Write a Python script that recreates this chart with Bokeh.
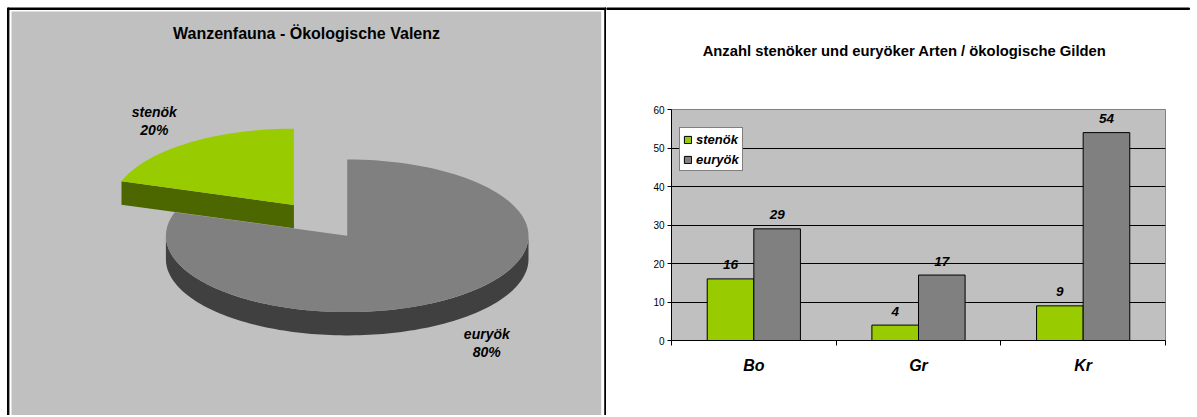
import numpy as np
from bokeh.plotting import figure
from bokeh.models import (Range1d, ColumnDataSource, LinearAxis, FixedTicker,
                          Legend, LegendItem, FactorRange)
from bokeh.layouts import row, column
from bokeh.transform import dodge
from bokeh.core.properties import value
from bokeh.embed import file_html
from bokeh.resources import INLINE

# ---------------- data ----------------
pie_title = "Wanzenfauna - Ökologische Valenz"
pie_labels = ["euryök", "stenök"]
pie_values = [80, 20]

bar_title = "Anzahl stenöker und euryöker Arten / ökologische Gilden"
guilds = ["Bo", "Gr", "Kr"]
series_names = ["stenök", "euryök"]
stenoek = [16, 4, 9]
euryoek = [29, 17, 54]
y_ticks = [0, 10, 20, 30, 40, 50, 60]

# ---------------- style ----------------
FONT = "Liberation Sans"
TOP_COL = {"stenök": "#99CC00", "euryök": "#808080"}
SIDE_COL = {"stenök": "#4C6600", "euryök": "#404040"}
BG = "#C0C0C0"
EXPLODE = {"stenök": 0.5, "euryök": 0.0}
H = 415


def no_align(f):
    if "frame_align" in f.properties():
        f.frame_align = False
    return f


def blank_fig(w, h, xr, yr, bg="white"):
    f = figure(width=w, height=h, x_range=xr, y_range=yr,
               output_backend="svg", toolbar_location=None, min_border=0,
               x_axis_location=None, y_axis_location=None,
               background_fill_color=bg, border_fill_color=bg,
               outline_line_color=None)
    f.xgrid.grid_line_color = None
    f.ygrid.grid_line_color = None
    return no_align(f)


# ---------------- left: 3D pie ----------------
pie = blank_fig(606, H, Range1d(0, 606), Range1d(H, 0))

# frame lines and chart area
pie.quad(left=[7, 7, 604.3], right=[606, 8.4, 605.7], top=[7.5, 7.5, 7.5], bottom=[9, H, H],
         color="black")
pie.quad(left=[11], right=[600.7], top=[11], bottom=[H], fill_color=BG, line_color=None)

CX, CY, RX, RY, DEPTH = 346.7, 235.3, 181.3, 76.3, 23.3
LKX, LKY = 1.31, 1.36


def ell(ox, oy, a0, a1, n=120):
    t = np.radians(np.linspace(a0, a1, n))
    return ox + RX * np.sin(t), oy - RY * np.cos(t)


total = float(sum(pie_values))
bounds = np.concatenate([[0], np.cumsum(pie_values)]) / total * 360.0

xs, ys, cols = [], [], []
lab_x, lab_y, lab_name, lab_pct = [], [], [], []
for i, name in enumerate(pie_labels):
    a0, a1 = bounds[i], bounds[i + 1]
    mid = np.radians((a0 + a1) / 2)
    ox = CX + EXPLODE[name] * RX * np.sin(mid)
    oy = CY - EXPLODE[name] * RY * np.cos(mid)
    # outer visible side (front half: 90..270)
    s0, s1 = max(a0, 90), min(a1, 270)
    if s1 > s0:
        ux, uy = ell(ox, oy, s0, s1)
        xs.append(list(ux) + list(ux[::-1]))
        ys.append(list(uy) + list((uy + DEPTH)[::-1]))
        cols.append(SIDE_COL[name])
    # radial cut faces
    for a, sign in ((a0, -1), (a1, 1)):
        if sign * np.sin(np.radians(a)) > 1e-6:
            px, py = ell(ox, oy, a, a, 1)
            xs.append([ox, px[0], px[0], ox])
            ys.append([oy, py[0], py[0] + DEPTH, oy + DEPTH])
            cols.append(SIDE_COL[name])
    # top face
    tx, ty = ell(ox, oy, a0, a1)
    xs.append([ox] + list(tx))
    ys.append([oy] + list(ty))
    cols.append(TOP_COL[name])
    # label position
    lx = ox + LKX * RX * np.sin(mid)
    ly = oy - LKY * RY * np.cos(mid)
    if np.cos(mid) < 0:
        ly += DEPTH
    lab_x.append(lx)
    lab_y.append(ly)
    lab_name.append(name)
    lab_pct.append(f"{pie_values[i] / total * 100:.0f}%")

pie.patches(xs=xs, ys=ys, fill_color=cols, line_color=None)

lsrc = ColumnDataSource(dict(x=lab_x, y=lab_y, name=lab_name, pct=lab_pct))
for col, off in (("name", -9), ("pct", 9)):
    pie.text(x="x", y="y", text=col, source=lsrc, y_offset=off,
             text_font=value(FONT), text_font_style="bold italic", text_font_size="14px",
             text_align="center", text_baseline="middle", text_color="black")

pie.text(x=[306], y=[33], text=[pie_title], text_font=value(FONT),
         text_font_style="bold", text_font_size="16px", text_align="center",
         text_baseline="middle", text_color="black")

# ---------------- right: top border line and title ----------------
RW = 584
TH = 69
head = blank_fig(RW, TH, Range1d(0, RW), Range1d(TH, 0))
head.quad(left=[0], right=[RW - 1], top=[7.5], bottom=[9], color="black")
head.text(x=[298], y=[50], text=[bar_title], text_font=value(FONT),
          text_font_style="bold", text_font_size="14.8px", text_align="center",
          text_baseline="middle", text_color="black")

# ---------------- right: bar chart ----------------
BH = H - TH
bar = figure(width=RW, height=BH, x_range=FactorRange(*guilds),
             y_range=Range1d(y_ticks[0], y_ticks[-1]),
             output_backend="svg", toolbar_location=None,
             min_border_left=65, min_border_right=RW - 559, min_border_top=40,
             min_border_bottom=BH - 271,
             x_axis_location=None, background_fill_color=BG, border_fill_color="white",
             outline_line_color="#808080")
no_align(bar)

yt = FixedTicker(ticks=y_ticks)
bar.yaxis.ticker = yt
bar.ygrid.ticker = yt
bar.ygrid.grid_line_color = "black"
bar.ygrid.grid_line_width = 1
bar.xgrid.grid_line_color = None
bar.yaxis.axis_line_color = "black"
bar.yaxis.major_tick_line_color = "black"
bar.yaxis.major_tick_out = 4
bar.yaxis.major_tick_in = 0
bar.yaxis.minor_tick_line_color = None
bar.yaxis.major_label_standoff = 3
bar.yaxis.major_label_text_font = FONT
bar.yaxis.major_label_text_font_size = "10px"
bar.yaxis.major_label_text_color = "black"

n = len(guilds)
xa = LinearAxis(ticker=FixedTicker(ticks=[i + 0.5 for i in range(n)],
                                   minor_ticks=list(range(n + 1))),
                major_label_overrides={i + 0.5: g for i, g in enumerate(guilds)},
                axis_line_color="black", major_tick_line_color=None,
                major_tick_out=0, major_tick_in=0,
                minor_tick_line_color="black", minor_tick_out=5, minor_tick_in=0,
                major_label_standoff=11, major_label_text_font=FONT,
                major_label_text_font_size="16px", major_label_text_font_style="bold italic",
                major_label_text_color="black")
bar.add_layout(xa, "below")

src = ColumnDataSource(dict(guild=guilds, steno=stenoek, euryo=euryoek,
                            steno_lbl=[str(v) for v in stenoek],
                            euryo_lbl=[str(v) for v in euryoek]))
BW = 0.283
renderers = []
for col, off, colr in (("steno", -BW / 2, TOP_COL["stenök"]), ("euryo", BW / 2, TOP_COL["euryök"])):
    r = bar.vbar(x=dodge("guild", off, range=bar.x_range), top=col, width=BW, source=src,
                 fill_color=colr, line_color="black", line_width=1)
    renderers.append(r)
    bar.text(x=dodge("guild", off, range=bar.x_range), y=col, text=col + "_lbl", source=src,
             y_offset=-14, text_font=value(FONT), text_font_style="bold italic",
             text_font_size="13.5px", text_align="center", text_baseline="middle",
             text_color="black")

legend = Legend(items=[LegendItem(label=series_names[0], renderers=[renderers[0]]),
                       LegendItem(label=series_names[1], renderers=[renderers[1]])],
                location=(8, 169), border_line_color="black", border_line_width=1,
                background_fill_color="white", background_fill_alpha=1.0,
                label_text_font=FONT, label_text_font_style="bold italic",
                label_text_font_size="13px", label_text_color="black",
                glyph_width=9, glyph_height=9, label_height=16, label_standoff=4,
                spacing=4, padding=3, margin=0)
bar.add_layout(legend)

layout = row(pie, column(row(head), row(bar)))
open("out.html", "w").write(file_html(layout, INLINE))
